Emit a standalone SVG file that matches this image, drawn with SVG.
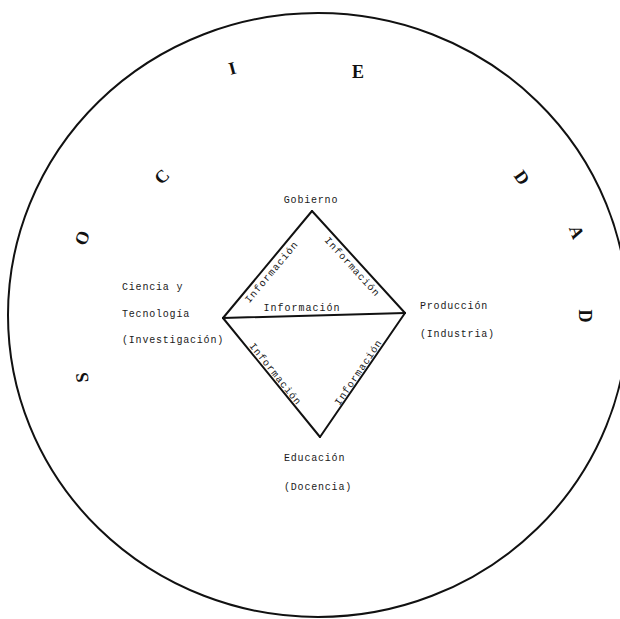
<svg xmlns="http://www.w3.org/2000/svg" width="620" height="619" viewBox="0 0 620 619">
<style>
.bg{fill:#ffffff}
.ring{fill:none;stroke:#111;stroke-width:2}
.edge{stroke:#111;stroke-width:2;stroke-linecap:round;fill:none}
.lbl{font-family:"Liberation Mono","DejaVu Sans Mono",monospace;font-size:10px;letter-spacing:0.8px;fill:#1a1a1a}
.elbl{font-family:"Liberation Mono","DejaVu Sans Mono",monospace;font-size:10px;letter-spacing:1px;fill:#1a1a1a;text-anchor:middle}
.big{font-family:"Liberation Serif","DejaVu Serif",serif;font-size:18px;font-weight:bold;fill:#111;text-anchor:middle}
</style>
<rect class="bg" x="0" y="0" width="620" height="619"/>
<g id="sociedad">
<ellipse class="ring" cx="318" cy="315" rx="310" ry="302"/>
<text class="big" transform="translate(88,377) rotate(-95)">S</text>
<text class="big" transform="translate(88,240) rotate(-70)">O</text>
<text class="big" transform="translate(166,181) rotate(-45)">C</text>
<text class="big" transform="translate(234,74) rotate(-15)">I</text>
<text class="big" transform="translate(358,78) rotate(0)">E</text>
<text class="big" transform="translate(517,181) rotate(55)">D</text>
<text class="big" transform="translate(571,234) rotate(70)">A</text>
<text class="big" transform="translate(579,316) rotate(90)">D</text>
</g>
<g id="connectors">
<line class="edge" x1="223" y1="318" x2="312" y2="211"/>
<line class="edge" x1="312" y1="211" x2="405" y2="313"/>
<line class="edge" x1="223" y1="318" x2="405" y2="313"/>
<line class="edge" x1="223" y1="318" x2="320" y2="437"/>
<line class="edge" x1="405" y1="313" x2="320" y2="437"/>
<text class="elbl" transform="translate(274,274) rotate(-50.2)">Información</text>
<text class="elbl" transform="translate(350,269) rotate(47.6)">Información</text>
<text class="elbl" x="302" y="311">Información</text>
<text class="elbl" transform="translate(273,376) rotate(51.3)">Información</text>
<text class="elbl" transform="translate(361,374) rotate(-56)">Información</text>
</g>
<g id="gobierno">
<text class="lbl" x="311" y="203" text-anchor="middle">Gobierno</text>
</g>
<g id="ciencia">
<text class="lbl" x="122" y="290">Ciencia y</text>
<text class="lbl" x="122" y="317">Tecnología</text>
<text class="lbl" x="122" y="343">(Investigación)</text>
</g>
<g id="produccion">
<text class="lbl" x="420" y="309">Producción</text>
<text class="lbl" x="420" y="337">(Industria)</text>
</g>
<g id="educacion">
<text class="lbl" x="284" y="461">Educación</text>
<text class="lbl" x="284" y="490">(Docencia)</text>
</g>
</svg>
